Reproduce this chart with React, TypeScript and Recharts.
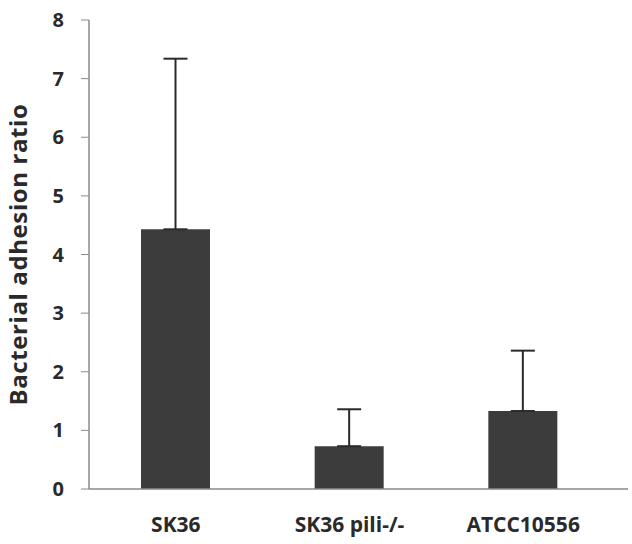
import { BarChart, Bar, XAxis, YAxis, ErrorBar, Label } from "recharts";

const strains = ["SK36", "SK36 pili-/-", "ATCC10556"];
const adhesion = [4.43, 0.73, 1.33];
const upperError = [2.91, 0.63, 1.03];
const yTicks = [0, 1, 2, 3, 4, 5, 6, 7, 8];

const data = strains.map((name, i) => ({
  name,
  value: adhesion[i],
  err: [0, upperError[i]],
}));

const font = "'Open Sans', sans-serif";
const axisColor = "#8a8a8a";
const textColor = "#2a2a2a";

export default function App() {
  return (
    <div style={{ position: "absolute", left: 0, top: 0, background: "#fff" }}>
      <BarChart width={632} height={544} data={data} margin={{ top: 20, right: 4, bottom: 0, left: 0 }} barSize={69}>
        <XAxis
          dataKey="name"
          height={55}
          tickLine={false}
          axisLine={{ stroke: axisColor, strokeWidth: 1.5 }}
          padding={{ left: 0, right: 18 }}
          tickMargin={22}
          tick={{ fontFamily: font, fontSize: 21, fontWeight: 700, fill: textColor }}
        />
        <YAxis
          width={89}
          domain={[0, 8]}
          ticks={yTicks}
          interval={0}
          tickSize={8}
          tickMargin={17}
          axisLine={{ stroke: axisColor, strokeWidth: 1.5 }}
          tickLine={{ stroke: axisColor }}
          tick={{ fontFamily: font, fontSize: 20, fontWeight: 700, fill: textColor }}
        >
          <Label
            value="Bacterial adhesion ratio"
            angle={-90}
            position="insideLeft"
            offset={24}
            dx={-6}
            style={{ fontFamily: font, fontSize: 24, fontWeight: 700, fill: textColor, textAnchor: "middle", letterSpacing: 0.6 }}
          />
        </YAxis>
        <Bar dataKey="value" fill="#3c3c3c" isAnimationActive={false}>
          <ErrorBar dataKey="err" width={12} stroke={textColor} strokeWidth={2} direction="y" />
        </Bar>
      </BarChart>
    </div>
  );
}
